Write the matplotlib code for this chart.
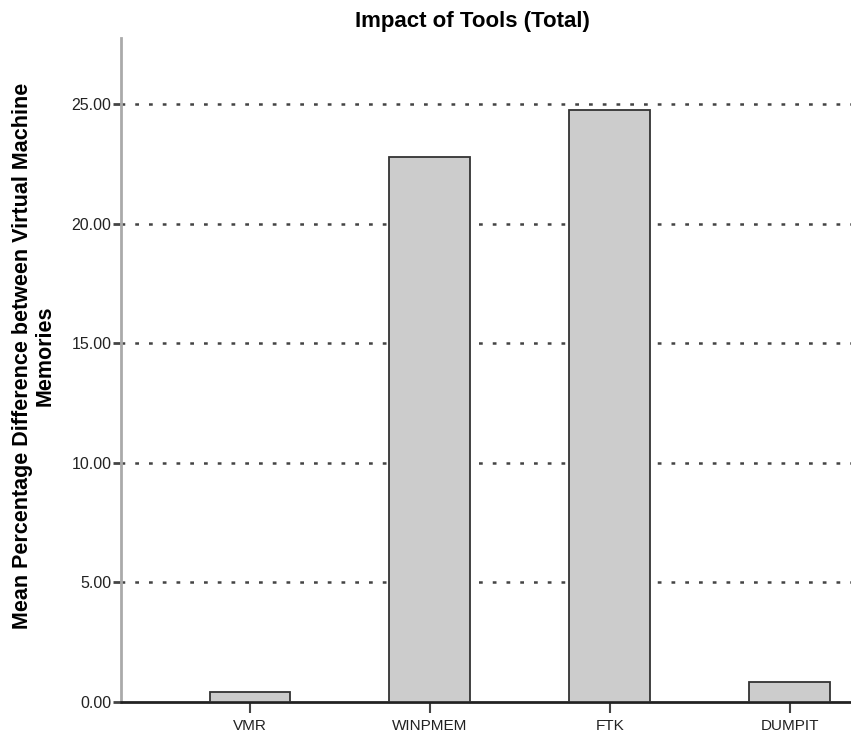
import matplotlib
matplotlib.use("Agg")
import matplotlib.pyplot as plt

categories = ["VMR", "WINPMEM", "FTK", "DUMPIT"]
values = [0.42, 22.78, 24.75, 0.84]
yticks = [0, 5, 10, 15, 20, 25]

W, H = 851, 735
fig = plt.figure(figsize=(W/100, H/100), dpi=100)
ax = fig.add_axes([121/W, 1-702/H, 1-121/W, (702-38)/H])

x = list(range(len(categories)))
ax.bar(x, values, width=0.45, color="#cccccc", edgecolor="#333333", linewidth=1.3, zorder=3)

ax.set_xlim(-0.717, 3.34)
ax.set_ylim(0, 27.76)
ax.set_yticks(yticks)
ax.set_yticklabels([f"{v:.2f}" for v in yticks], fontsize=11.5, color="#222222",
                   family=["Liberation Sans", "DejaVu Sans"])
ax.set_xticks(x)
ax.set_xticklabels(categories, fontsize=11, color="#222222",
                   family=["Liberation Sans", "DejaVu Sans"])

for v in yticks[1:]:
    ax.axhline(v, color="#444444", linestyle=(0, (1.5, 4)), linewidth=1.8, zorder=1)

for s in ["top", "right"]:
    ax.spines[s].set_visible(False)
ax.spines["left"].set_color("#aaaaaa")
ax.spines["left"].set_linewidth(2)
ax.spines["bottom"].set_color("#222222")
ax.spines["bottom"].set_linewidth(2)
ax.tick_params(axis="y", length=6, width=2, color="#444444", pad=1)
ax.tick_params(axis="x", length=8, width=1.5, color="#444444", pad=4)

fig.text(472/W, 1-21/H, "Impact of Tools (Total)", fontsize=16, fontweight="bold",
         ha="center", va="center", family=["Liberation Sans", "DejaVu Sans"])
fig.text(34/W, 1-356/H, "Mean Percentage Difference between Virtual Machine\nMemories",
         fontsize=15.5, fontweight="bold", rotation=90, ha="center", va="center",
         multialignment="center", linespacing=1.1,
         family=["Liberation Sans", "DejaVu Sans"])

fig.savefig("out.png", dpi=100)
